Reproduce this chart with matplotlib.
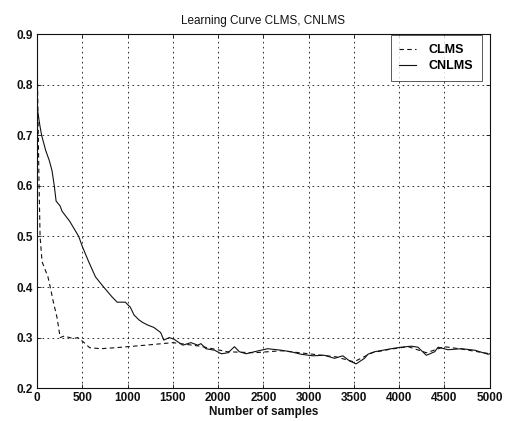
"""Learning curve of CLMS vs. CNLMS (scanned MATLAB figure recreation)."""

import matplotlib
matplotlib.use("Agg")
import matplotlib.pyplot as plt

INK = "#111111"

# CNLMS (solid)
CNLMS_X = [0, 5, 30, 50, 95, 135, 165, 190, 210, 255, 275, 360, 460, 500, 570,
           645, 735, 830, 885, 975, 1030, 1070, 1125, 1165, 1220, 1290, 1365,
           1400, 1460, 1510, 1610, 1700, 1775, 1810, 1865, 1960, 2035, 2110,
           2180, 2235, 2310, 2400, 2548, 2695, 2805, 2916, 3045, 3174, 3285,
           3377, 3450, 3524, 3617, 3654, 3727, 3820, 3912, 4023, 4133, 4207,
           4300, 4392, 4430, 4540, 4688, 4835, 4983, 5000]
CNLMS_Y = [0.80, 0.75, 0.72, 0.70, 0.67, 0.65, 0.63, 0.60, 0.57, 0.56, 0.55, 0.53,
           0.50, 0.48, 0.45, 0.42, 0.40, 0.38, 0.37, 0.37, 0.36, 0.345, 0.335,
           0.33, 0.325, 0.32, 0.31, 0.295, 0.30, 0.297, 0.285, 0.29, 0.285,
           0.288, 0.278, 0.275, 0.268, 0.27, 0.282, 0.272, 0.268, 0.272, 0.278,
           0.275, 0.272, 0.267, 0.264, 0.265, 0.259, 0.264, 0.254, 0.248, 0.259,
           0.267, 0.272, 0.275, 0.278, 0.281, 0.283, 0.281, 0.265, 0.272, 0.281,
           0.276, 0.278, 0.275, 0.267, 0.268]

# CLMS (dashed)
CLMS_X = [0, 5, 20, 33, 55, 120, 145, 180, 220, 255, 300, 400, 450, 520, 580,
          700, 870, 1000, 1200, 1500, 1800, 2100, 2400, 2700, 3000, 3300, 3500,
          3700, 3900, 4100, 4300, 4500, 4700, 5000]
CLMS_Y = [0.88, 0.80, 0.62, 0.50, 0.45, 0.42, 0.40, 0.37, 0.34, 0.30, 0.303,
          0.298, 0.30, 0.29, 0.28, 0.278, 0.28, 0.282, 0.285, 0.29, 0.283,
          0.272, 0.27, 0.274, 0.268, 0.262, 0.252, 0.27, 0.277, 0.282, 0.27,
          0.282, 0.277, 0.268]

X_TICKS = [0, 500, 1000, 1500, 2000, 2500, 3000, 3500, 4000, 4500, 5000]
Y_TICKS = [0.2, 0.3, 0.4, 0.5, 0.6, 0.7, 0.8, 0.9]


def main():
    plt.rcParams["font.family"] = ["Liberation Sans", "DejaVu Sans"]

    fig = plt.figure(figsize=(5.08, 4.21), dpi=100)
    ax = fig.add_axes([0.073, 0.078, 0.891, 0.841])

    ax.plot(CLMS_X, CLMS_Y, color=INK, linewidth=0.8, linestyle=(0, (4, 3)),
            label="CLMS")
    ax.plot(CNLMS_X, CNLMS_Y, color=INK, linewidth=0.8, label="CNLMS")

    ax.set_xlim(0, 5000)
    ax.set_ylim(0.2, 0.9)
    ax.set_xticks(X_TICKS)
    ax.set_yticks(Y_TICKS)
    ax.set_yticklabels([f"{v:.1f}" for v in Y_TICKS])
    ax.tick_params(direction="in", length=3, width=0.6, top=True, right=True,
                   labelsize=8.5, colors=INK, pad=3)
    for lbl in ax.get_xticklabels() + ax.get_yticklabels():
        lbl.set_fontweight("bold")

    ax.grid(True, color=INK, linestyle=(0, (2, 4)), linewidth=0.6)
    for sp in ax.spines.values():
        sp.set_color(INK)
        sp.set_linewidth(0.8)

    ax.set_title("Learning Curve CLMS, CNLMS", fontsize=8.5, color=INK, pad=7)
    ax.set_xlabel("Number of samples", fontsize=8.5, fontweight="bold",
                  color=INK, labelpad=1)

    leg = ax.legend(loc="upper right", bbox_to_anchor=(0.982, 0.997),
                    borderaxespad=0, fontsize=9, frameon=True,
                    fancybox=False, edgecolor=INK, handlelength=1.3,
                    handletextpad=1.0, borderpad=0.7, labelspacing=0.35)
    leg.get_frame().set_linewidth(0.6)
    for t in leg.get_texts():
        t.set_fontweight("bold")

    fig.savefig("out.png", dpi=100, facecolor="white")


if __name__ == "__main__":
    main()
